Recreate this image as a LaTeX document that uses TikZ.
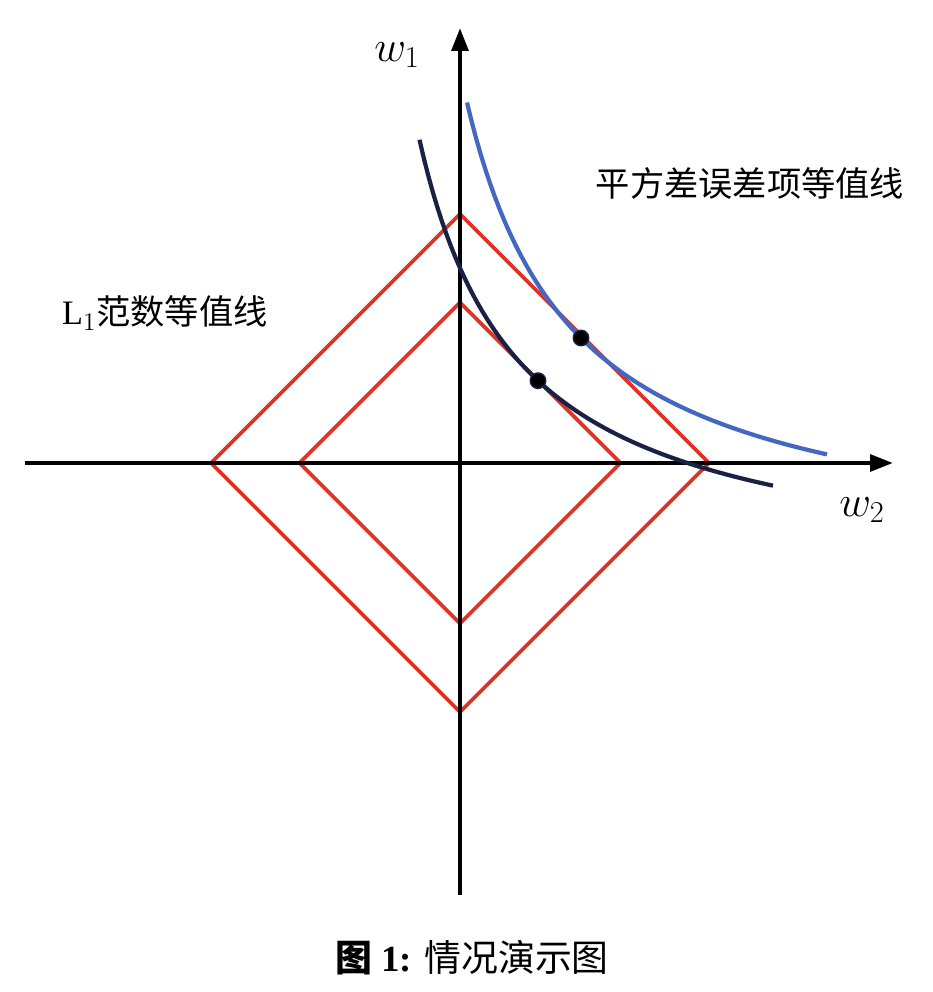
\documentclass[tikz,border=0pt]{standalone}
\usepackage{fontspec}
\setmainfont{Liberation Serif}
\newfontfamily\cjk{Noto Sans CJK SC}
\usetikzlibrary{arrows.meta}
\definecolor{diamondred}{RGB}{222,52,38}
\definecolor{curvenavy}{RGB}{27,33,68}
\definecolor{curveblue}{RGB}{68,104,192}

\begin{document}
\begin{tikzpicture}[x=0.2cm, y=0.2cm, >={Triangle[length=4.6mm, width=3.3mm]},
  axis/.style={line width=2.6pt},
  diamondline/.style={draw=diamondred, line width=2.1pt, line join=miter},
  contour/.style={line width=2.4pt},
  touch/.style={circle, fill=black, draw=curvenavy, line width=0.8pt, inner sep=0pt, minimum size=0.31cm},
  every node/.style={font=\fontsize{19.5}{23}\selectfont}]
  \useasboundingbox (-46,-52.9) rectangle (47.2,46.3);
  % L1 contours
  \draw[diamondline] (24.9,0) -- (0,24.9) -- (-24.9,0) -- (0,-24.9) -- cycle;
  \draw[diamondline] (16.05,0) -- (0,16.05) -- (-16.05,0) -- (0,-16.05) -- cycle;
  % axes
  \coordinate (xmin) at (-43.5,0);
  \coordinate (xmax) at (43.3,0);
  \coordinate (ymin) at (0,-43.2);
  \coordinate (ymax) at (0,43.5);
  \draw[axis, ->] (xmin) -- (xmax);
  \draw[axis, ->] (ymin) -- (ymax);
  % squared error contours
  \draw[contour, curvenavy, domain=-4.05:31.3, samples=80] plot ({\x}, {441/(\x+14)-12});
  \draw[contour, curveblue, domain=0.7:36.7, samples=80] plot ({\x}, {488.41/(\x+10)-9.6});
  \node[touch] (innertouch) at (7.8,8.23) {};
  \node[touch] (outertouch) at (12.1,12.5) {};
  % labels
  \node[font=\fontsize{23}{27}\selectfont] (w1) at (-6.3,40.8) {$w_1$};
  \node[font=\fontsize{23}{27}\selectfont] (w2) at (40.2,-4.7) {$w_2$};
  \node (sqlabel) at (29,28) {\cjk 平方差误差项等值线};
  \node (lonelabel) at (-29.5,15) {$\mathrm{L}_1$\cjk 范数等值线};
  \node[font=\fontsize{21}{25}\selectfont] (caption) at (1.2,-49.5) {\textbf{{\cjk 图} 1:} {\cjk 情况演示图}};
\end{tikzpicture}
\end{document}
